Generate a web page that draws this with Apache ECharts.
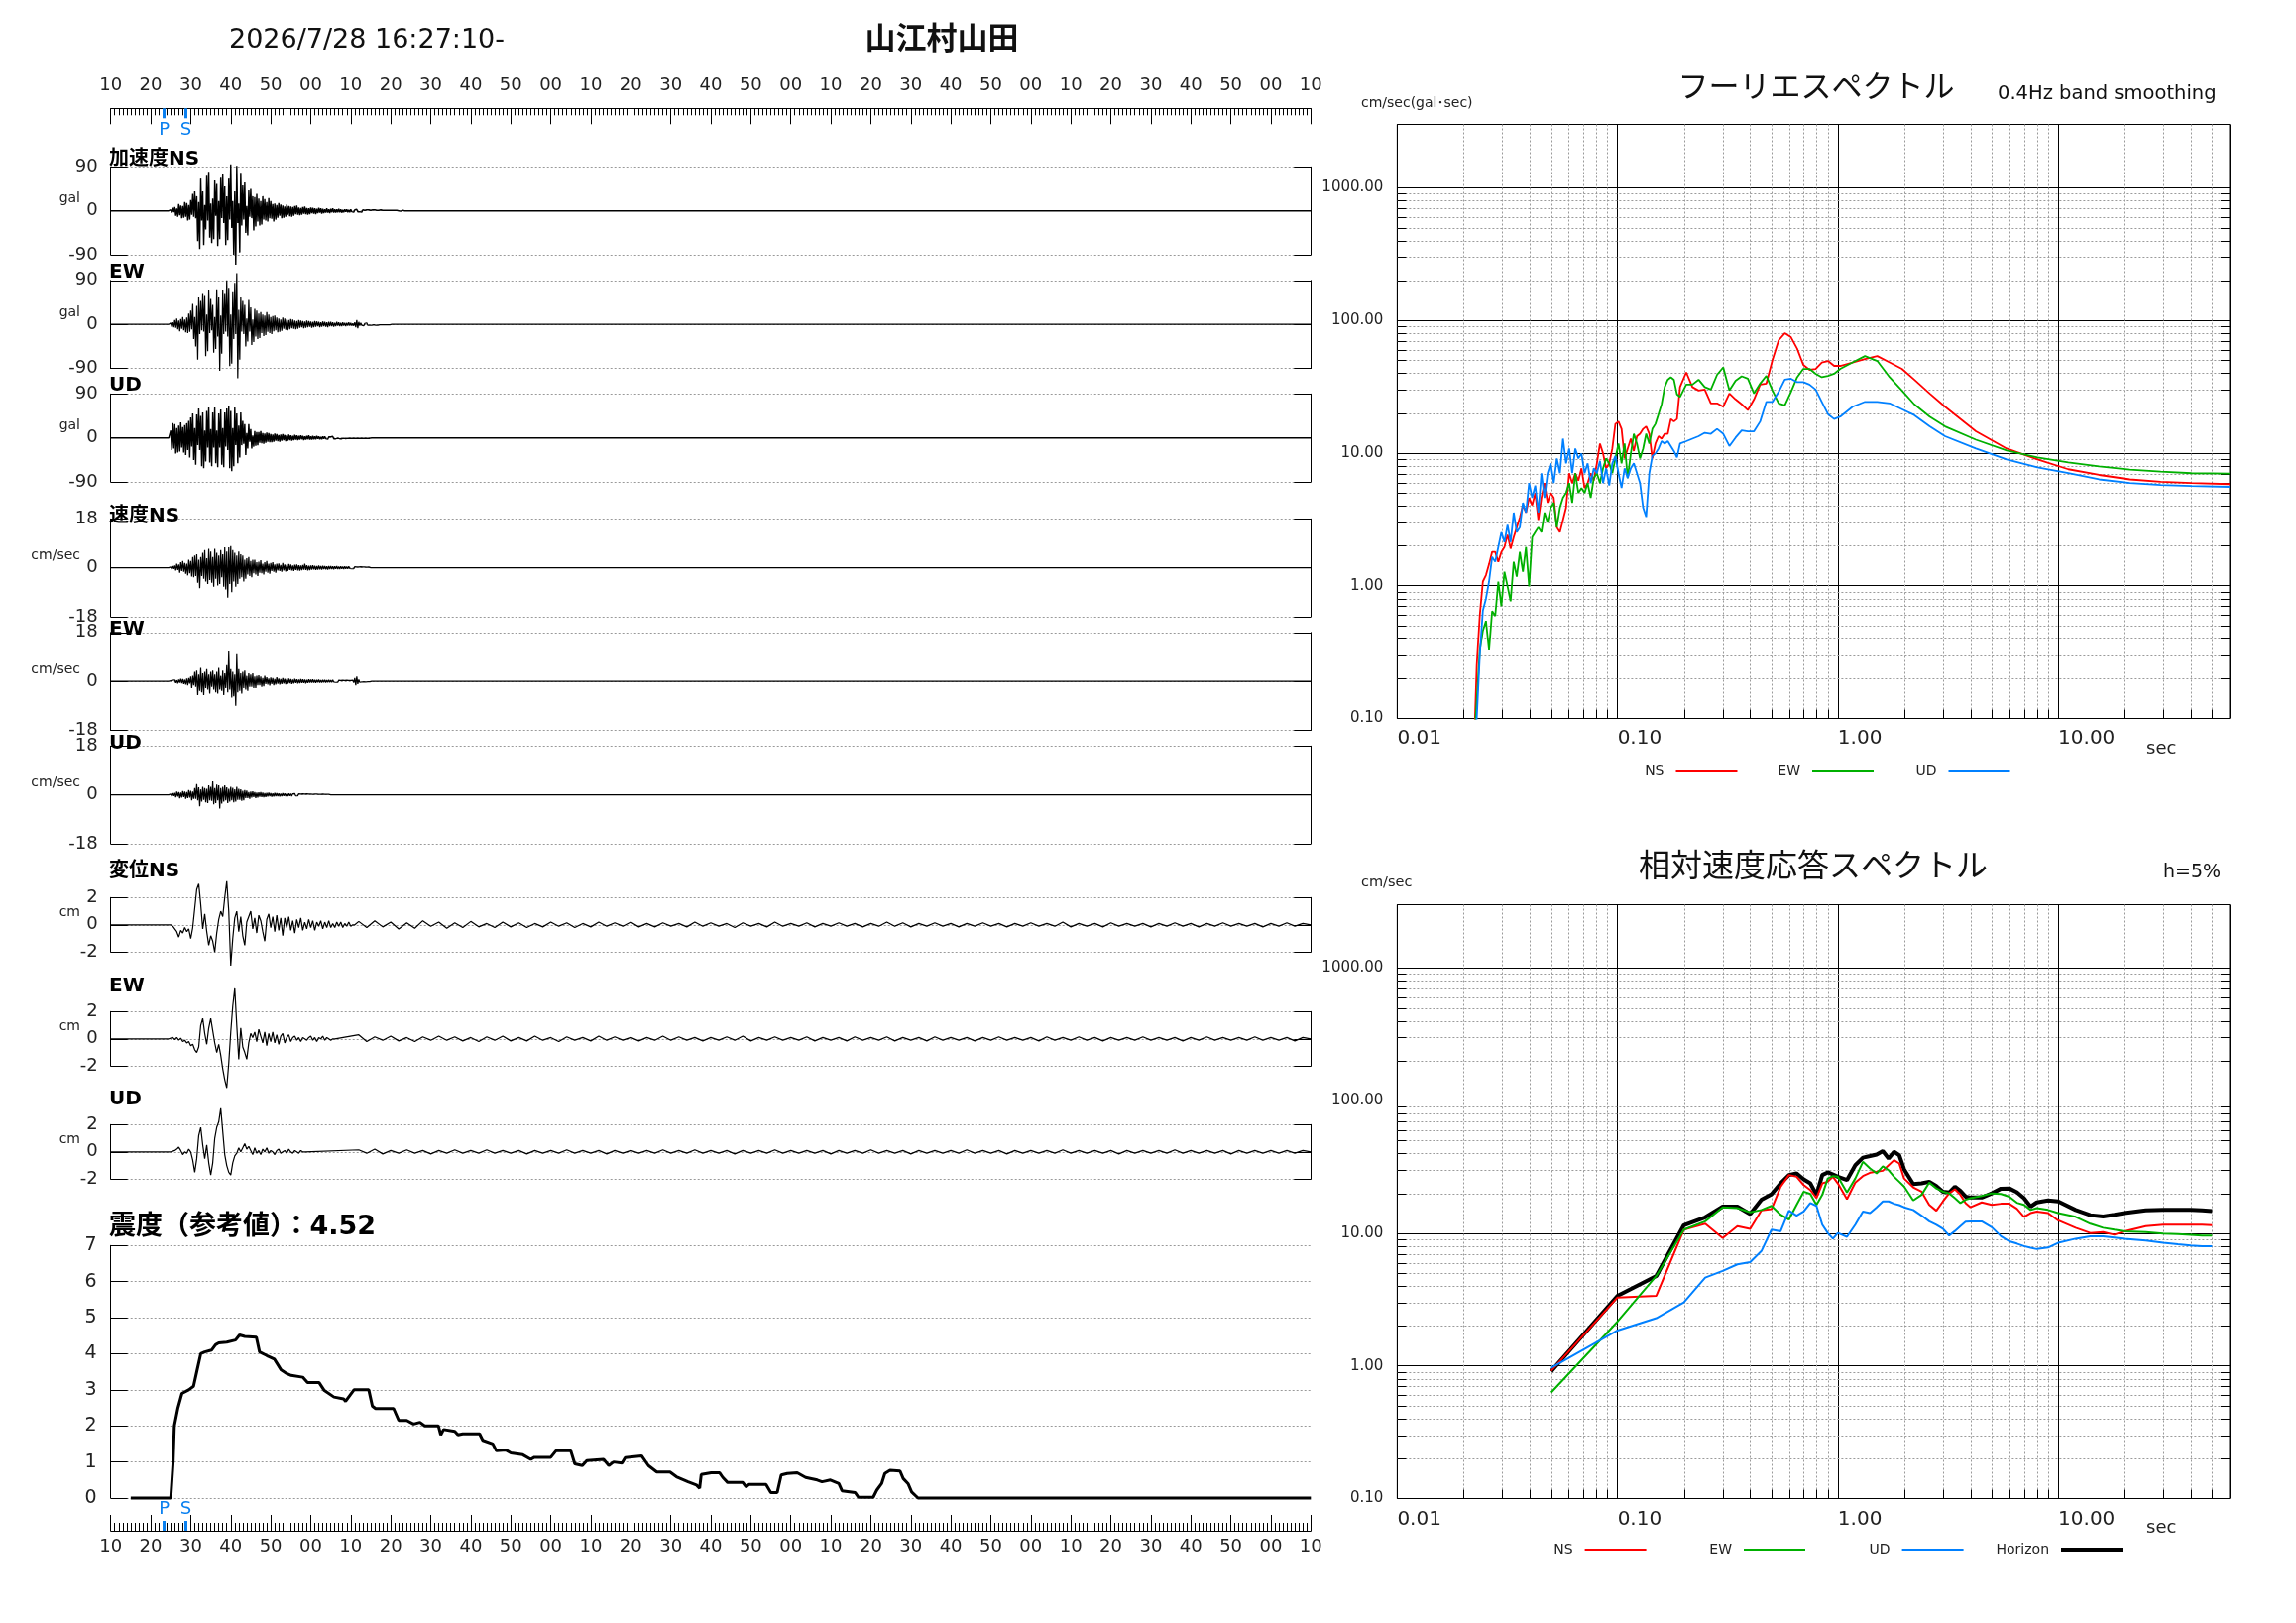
<!DOCTYPE html>
<html><head><meta charset="utf-8">
<script src="https://cdn.jsdelivr.net/npm/echarts@6/dist/echarts.min.js"></script>
<style>html,body{margin:0;padding:0;background:#fff}#c{width:2316px;height:1637px}</style>
</head><body><div id="c"></div>
<script>
// ---------------- DATA ----------------
const TIME_MAX = 300;                 // seconds shown (16:27:10 + 5 min)
const phaseTimes = [13.35, 18.75];
const phaseNames = ['P', 'S'];

// acceleration (gal), t0 = 14 s, dt = 0.25 s
const ACC_T0 = 14, ACC_DT = 0.25;
const accNS = [0,0,0,0,
2,-4,6,-3, 8,-10,5,-12, 14,-9,11,-15, 10,-14,18,-12, 16,-20,12,-18,
22,-8,35,-12, 40,-15,30,-62, 18,-78,66,-20, 40,-70,12,-38, 72,-20,80,-55,
15,-66,25,-58, 62,-10,55,-72, 20,-58,68,-15, 75,-25,50,-70, 30,-60,66,-18,
95,-35,20,-90, 40,-110,92,-25, 15,-85,78,-30, 52,-18,58,-45, 10,-50,42,-12,
45,-15,30,-40, 28,-32,35,-22, 25,-30,20,-28, 30,-18,24,-20, 18,-22,26,-15,
20,-16,14,-22, 15,-18,12,-14, 16,-10,13,-15, 11,-14,9,-12, 13,-8,10,-11,
9,-12,8,-10, 10,-7,11,-8, 7,-9,6,-8, 8,-6,9,-7, 6,-8,5,-7,
7,-5,6,-6,5,-7,4,-5,6,-4,5,-6,4,-5,3,-4,5,-4,3,-5,
4,-3,5,-4,3,-4,3,-3,4,-3,3,-4,2,-3,3,-2,3,-3,2,-3,
3,-2,2,-3,2,-2,3,-2,2,-2,2,-3,2,-2,1,-2,2,-1,2,-2,
1,-2,2,-1,2,-1,1,-2,1,-1,2,-1,1,-1,1,-1,1,-1,1,-1,
1,-1,1,-1,1,-1,1,-1,0,1,-1,0,1,-1,0,0];
const accEW = [0,0,0,0,
3,-5,4,-6, 9,-7,12,-10, 8,-14,11,-9, 15,-12,10,-16, 14,-18,22,-15,
28,-10,42,-30, 15,-45,38,-72, 55,-20,48,-12, 62,-15,58,-65, 20,-55,70,-18,
52,-12,40,-58, 15,-50,72,-25, 55,-95,18,-60, 70,-20,62,-15, 90,-25,75,-85,
20,-80,66,-30, 85,-20,105,-110, 30,-72,55,-15, 48,-20,40,-45, 12,-35,50,-15,
35,-42,10,-36, 32,-25,28,-30, 22,-28,25,-18, 20,-24,18,-22, 25,-15,20,-18,
15,-20,17,-14, 18,-12,14,-16, 12,-15,10,-13, 14,-9,12,-11, 10,-12,9,-10,
11,-8,10,-9, 8,-10,7,-9, 9,-7,8,-6, 7,-8,6,-7, 8,-6,7,-5,
6,-7,5,-6,7,-5,6,-4,5,-6,4,-5,6,-4,5,-5,4,-6,5,-4,
5,-4,4,-5,3,-4,5,-3,4,-4,3,-4,4,-3,3,-4,3,-3,4,-3,
3,-3,2,-3,4,-6,9,-8,5,-3,3,-2,2,-3,2,-2,3,-2,2,-2,
2,-2,2,-1,2,-2,1,-2,2,-1,1,-1,2,-1,1,-1,1,-1,1,-1,0];
const accUD = [0,0,0,0,
15,-25,30,-22, 28,-32,20,-30, 25,-28,32,-20, 22,-30,26,-35, 30,-25,35,-40,
42,-18,50,-45, 20,-55,48,-15, 60,-25,45,-58, 52,-62,15,-48, 55,-20,62,-50,
18,-58,52,-20, 62,-52,15,-60, 50,-20,58,-55, 20,-60,52,-18, 60,-25,65,-62,
55,-68,20,-58, 62,-15,50,-52, 25,-40,52,-15, 35,-12,28,-35, 10,-22,28,-8,
18,-22,5,-18, 14,-16,12,-15, 12,-10,14,-11, 10,-12,9,-10, 11,-8,10,-9,
8,-9,7,-8,9,-6,8,-7,6,-8,7,-6,8,-5,6,-7,5,-6,7,-5,
5,-6,4,-5,6,-4,5,-5,4,-4,5,-3,4,-5,3,-4,4,-3,5,-4,
3,-4,4,-3,3,-3,4,-2,3,-3,2,-3,3,-2,3,-2,2,-3,2,-2,
2,-2,3,-2,2,-2,2,-1,2,-2,1,-2,2,-1,1,-2,1,-1,2,-1,
1,-1,1,-1,1,-1,1,-1,1,-1,1,-1,1,-1,1,-1,1,-1,1,-1,0];

// velocity (cm/sec), t0 = 14 s, dt = 0.25 s
const VEL_T0 = 14, VEL_DT = 0.25;
const velNS = [0,0,0,0,
0.3,-0.5,0.6,-0.4, 0.8,-1.0,1.5,-0.8, 1.2,-1.8,2.0,-1.2, 2.5,-1.5,1.8,-2.2, 1.5,-2.8,3.0,-2.0,
2.5,-3.2,4.0,-3.5, 4.5,-3.0,5.0,-5.5, 3.0,-7.5,4.0,-3.0, 5.5,-4.0,6.5,-5.0, 3.5,-6.0,7.0,-4.5,
6.0,-5.5,4.0,-7.0, 7.0,-4.0,5.5,-6.5, 4.5,-6.0,6.5,-3.5, 5.0,-7.0,7.5,-8.0, 6.0,-11.0,7.5,-6.0,
8.0,-9.0,6.5,-5.0, 5.5,-7.0,4.5,-6.0, 6.0,-4.0,5.0,-3.5, 4.5,-5.0,3.0,-4.0, 3.5,-2.5,4.0,-3.0,
2.5,-3.5,3.0,-2.0, 3.0,-2.5,2.0,-3.0, 2.2,-1.8,2.8,-2.0, 1.5,-2.5,2.0,-1.5, 2.5,-1.8,1.5,-2.2,
1.8,-1.2,2.0,-1.5,1.2,-1.8,1.5,-1.0, 1.6,-1.2,1.0,-1.5,1.8,-1.0,1.2,-1.4, 1.0,-1.2,1.4,-0.8,1.2,-1.0,0.8,-1.2,
1.1,-0.8,1.2,-1.0,0.9,-1.1,0.8,-0.9, 1.0,-0.7,1.5,-0.8,0.9,-1.0,0.7,-0.9,
0.8,-0.7,0.9,-0.6,0.7,-0.8,0.6,-0.7,0.8,-0.6,0.6,-0.7,0.7,-0.5,0.6,-0.6,0.5,-0.7,0.6,-0.5,
0.6,-0.5,0.5,-0.6,0.5,-0.4,0.6,-0.5,0.4,-0.5,0.5,-0.4,0.4,-0.5,0.5,-0.4,0.4,-0.4,0.5,-0.3,
0.4,-0.4,0.3,-0.4,0.4,-0.3,0.3,-0.4,0.3,-0.3,0.4,-0.3,0.3,-0.3,0.3,-0.3,0.2,-0.3,0.3,-0.2,0];
const velEW = [0,0,0,0,
0.2,-0.3,0.4,-0.3, 0.5,-0.6,0.4,-0.8, 0.6,-0.5,0.9,-0.7, 0.8,-1.0,0.6,-1.2, 1.0,-1.5,1.2,-0.8,
1.8,-2.5,2.0,-1.5, 3.5,-2.0,4.0,-5.0, 2.5,-3.5,5.0,-4.0, 3.0,-5.0,3.5,-2.5, 4.5,-3.0,2.5,-4.5,
3.5,-2.0,4.0,-3.0, 2.5,-4.0,3.5,-4.5, 5.0,-3.0,2.0,-3.5, 4.0,-5.0,3.0,-2.5, 6.0,-4.0,11.0,-3.0,
4.5,-6.0,3.5,-5.5, 2.5,-9.0,10.0,-4.0, 4.5,-3.5,3.0,-4.5, 3.5,-2.5,4.0,-3.0, 2.0,-3.5,3.0,-2.0,
2.5,-2.0,3.0,-2.5, 1.8,-2.5,2.0,-1.5, 2.2,-1.5,1.8,-2.0, 1.2,-1.8,2.0,-1.0, 1.5,-1.2,1.0,-1.6,
1.4,-1.0,1.2,-1.5,0.8,-1.2,1.5,-0.9, 1.0,-1.2,0.8,-1.0,1.2,-0.8,0.9,-1.1, 0.8,-0.9,1.0,-0.7,0.8,-1.0,0.6,-0.8,
0.9,-0.6,0.7,-0.8,0.6,-0.7,0.8,-0.6, 0.7,-0.6,0.6,-0.8,0.5,-0.6,0.7,-0.5,
0.6,-0.5,0.7,-0.5,0.5,-0.6,0.5,-0.4,0.6,-0.5,0.4,-0.5,0.5,-0.4,0.5,-0.5,0.4,-0.4,0.5,-0.4,
0.4,-0.4,0.5,-0.3,0.4,-0.4,0.3,-0.4,0.4,-0.3,0.3,-0.4,0.4,-0.3,0.3,-0.3,0.4,-0.3,0.3,-0.3,
0.3,-0.3,0.4,-0.5,1.2,-1.5,1.8,-1.0,0.6,-0.4,0.3,-0.3,0.3,-0.2,0.3,-0.3,0.2,-0.2,0.3,-0.2,0];
const velUD = [0,0,0,0,
0.3,-0.5,0.6,-0.4, 0.7,-0.9,1.2,-0.6, 1.0,-1.3,0.8,-1.0, 1.4,-0.8,1.2,-1.5, 1.0,-1.2,1.8,-1.0,
1.5,-2.0,1.2,-1.5, 2.5,-1.5,4.0,-2.0, 2.8,-4.2,2.0,-2.5, 3.0,-1.8,2.5,-2.8, 2.2,-3.0,3.5,-2.0,
3.0,-2.2,5.0,-3.5, 2.5,-3.0,3.8,-2.0, 3.5,-5.0,2.5,-3.2, 3.0,-2.5,3.5,-2.0, 2.8,-3.0,2.2,-2.5,
3.0,-2.0,2.6,-2.8, 2.0,-2.5,3.0,-1.8, 2.2,-1.8,2.0,-2.2, 1.5,-2.0,1.8,-1.2, 1.6,-1.2,1.0,-1.5,
1.2,-1.0,1.3,-0.8, 1.0,-1.2,0.8,-1.0, 0.9,-0.7,1.0,-0.8, 0.8,-0.9,0.6,-0.8, 0.7,-0.6,0.8,-0.5,
0.6,-0.7,0.5,-0.6,0.7,-0.5,0.6,-0.5,0.5,-0.6,0.4,-0.5,0.6,-0.4,0.5,-0.5,0.4,-0.5,0.5,-0.4,
0.4,-0.5,0.4,-0.3,0.5,-0.4,0.3,-0.4,0.4,-0.3,0.3,-0.4,0.4,-0.3,0.3,-0.3,0.4,-0.3,0.3,-0.2,
0.3,-0.3,0.2,-0.3,0.3,-0.2,0.3,-0.2,0.2,-0.3,0.2,-0.2,0.3,-0.2,0.2,-0.2,0.2,-0.2,0.2,-0.1,0];

// displacement (cm), t0 = 14 s, dt = 0.5 s ; long-period tail from 62 s, dt = 2 s
const DISP_T0 = 14, DISP_DT = 0.5, TAIL_T0 = 62, TAIL_DT = 2;
const dispNS = [0,0,0,-0.1,-0.3,-0.5,-0.9,-0.4,-0.6,-0.2,-0.5,-0.3,-1.0,-0.2,1.2,2.6,3.0,1.5,-0.3,0.8,
-0.5,-1.5,-0.8,-1.2,-2.0,-0.6,0.4,1.0,0.6,2.0,3.2,1.0,-3.0,-1.0,0.5,1.0,-0.5,0.6,-0.8,-1.5,
0.2,0.6,1.0,-0.3,0.5,-0.6,0.7,0.3,-0.5,-1.2,0.4,0.8,-0.2,0.6,-0.5,0.7,-0.4,0.5,-0.8,0.5,
-0.2,0.6,-0.4,0.3,-0.6,0.4,-0.2,0.5,-0.4,0.2,-0.3,0.4,-0.2,0.3,-0.4,0.2,-0.1,0.3,-0.3,0.2,
-0.2,0.3,-0.2,0.1,-0.2,0.2,-0.1,0.2,-0.2,0.1,-0.1,0.2,-0.1,0];
const dispEW = [0,0,0.05,0.1,-0.05,0.1,-0.1,0.05,-0.2,-0.1,-0.3,-0.2,-0.5,-0.4,-0.8,-1.0,-0.6,1.0,1.5,0.4,
-0.4,0.8,1.5,0.6,-0.3,-1.0,-0.4,-1.2,-2.2,-3.0,-3.6,-1.8,0.5,2.4,3.7,1.0,-1.5,0.8,-0.6,-1.0,
-1.5,-0.3,0.4,0.1,0.5,-0.2,0.7,0.2,-0.3,0.5,-0.5,0.4,-0.2,0.5,-0.3,0.3,-0.4,0.2,0.4,-0.3,
0.1,0.3,-0.2,0.1,0.2,-0.1,0.1,-0.2,0.1,0.0,-0.1,0.1,0.2,-0.1,0.1,-0.2,0.1,0.0,0.2,-0.1,
0.1,0.0,-0.1,0];
const dispUD = [0,0,0,0.05,0.1,0.2,0.35,0.1,-0.2,0.0,-0.1,0.2,0.0,-0.6,-1.5,-0.5,1.2,1.8,0.5,-0.5,
0.5,-0.8,-1.7,-0.8,1.0,1.8,2.2,3.2,1.5,-0.2,-1.0,-1.5,-1.7,-0.8,-0.3,-0.1,0.3,0.0,0.3,0.6,
0.2,0.4,0.1,-0.2,0.3,-0.1,0.1,-0.2,0.2,0.0,0.3,-0.1,0.1,0.0,-0.2,0.1,0.2,-0.1,0.0,0.1,
-0.1,0.2,0.0,-0.1,0.1,0.0,-0.1,0.1,0];
const dispNSTail = [0.25,-0.2,0.3,-0.15,0.2,-0.3,0.15,-0.25,0.3,-0.1,0.2,-0.25,0.15,-0.2,0.25,-0.15,0.1,-0.2,0.2,-0.15,
0.15,-0.2,0.1,-0.15,0.2,-0.1,0.15,-0.2,0.1,-0.15,0.2,-0.1,0.15,-0.1,0.2,-0.15,0.1,-0.15,0.15,-0.1,
0.1,-0.15,0.2,-0.1,0.15,-0.1,0.1,-0.2,0.15,-0.1,0.1,-0.15,0.2,-0.1,0.1,-0.1,0.15,-0.15,0.1,-0.1,
0.15,-0.1,0.1,-0.15,0.1,-0.1,0.2,-0.1,0.15,-0.15,0.1,-0.1,0.15,-0.1,0.1,-0.15,0.1,-0.1,0.15,-0.1,
0.1,-0.15,0.1,-0.1,0.15,-0.1,0.1,-0.1,0.2,-0.15,0.1,-0.1,0.1,-0.15,0.15,-0.1,0.1,-0.1,0.1,-0.15,
0.1,-0.1,0.15,-0.1,0.1,-0.15,0.1,-0.1,0.15,-0.1,0.1,-0.1,0.1,-0.15,0.1,-0.1,0.15,-0.1,0.1,0];
const dispEWTail = [0.3,-0.2,0.15,-0.1,0.2,-0.15,0.1,-0.2,0.15,-0.1,0.2,-0.1,0.15,-0.15,0.1,-0.2,0.15,-0.1,0.2,-0.15,
0.1,-0.15,0.2,-0.1,0.1,-0.2,0.15,-0.1,0.1,-0.15,0.2,-0.1,0.15,-0.1,0.1,-0.15,0.1,-0.1,0.2,-0.1,
0.15,-0.1,0.1,-0.15,0.1,-0.1,0.15,-0.1,0.2,-0.15,0.1,-0.1,0.15,-0.1,0.1,-0.1,0.15,-0.15,0.1,-0.1,
0.1,-0.15,0.15,-0.1,0.1,-0.1,0.15,-0.15,0.1,-0.1,0.1,-0.15,0.15,-0.1,0.1,-0.1,0.1,-0.15,0.1,-0.1,
0.15,-0.1,0.1,-0.1,0.1,-0.15,0.15,-0.1,0.1,-0.1,0.15,-0.1,0.1,-0.15,0.1,-0.1,0.1,-0.1,0.15,-0.1,
0.1,-0.1,0.1,-0.15,0.1,-0.1,0.15,-0.1,0.1,-0.1,0.1,-0.1,0.15,-0.1,0.1,-0.1,0.1,-0.15,0.1,0];
const dispUDTail = [0.15,-0.1,0.2,-0.15,0.1,-0.1,0.15,-0.1,0.1,-0.15,0.1,-0.1,0.15,-0.1,0.1,-0.1,0.15,-0.1,0.1,-0.1,
0.1,-0.15,0.1,-0.1,0.1,-0.1,0.15,-0.1,0.1,-0.1,0.1,-0.15,0.1,-0.1,0.1,-0.1,0.1,-0.1,0.15,-0.1,
0.1,-0.1,0.15,-0.1,0.1,-0.1,0.1,-0.15,0.1,-0.1,0.1,-0.1,0.15,-0.1,0.1,-0.1,0.1,-0.1,0.1,-0.15,
0.1,-0.1,0.1,-0.1,0.15,-0.1,0.1,-0.1,0.1,-0.15,0.1,-0.1,0.1,-0.1,0.1,-0.1,0.15,-0.1,0.1,-0.1,
0.1,-0.15,0.1,-0.1,0.1,-0.1,0.1,-0.1,0.15,-0.1,0.1,-0.1,0.1,-0.1,0.1,-0.15,0.1,-0.1,0.1,-0.1,
0.1,-0.1,0.15,-0.1,0.1,-0.1,0.1,-0.1,0.1,-0.15,0.1,-0.1,0.1,-0.1,0.1,-0.1,0.1,-0.1,0.1,0];

// seismic intensity (reference value) over time
const intensityTime = [5,15,15.6,15.9,16.8,17.8,19.5,20.7,21.5,22.5,23.5,25.2,26.2,27,29,31.2,32.2,33.5,36.4,37.2,
39,40.9,42.6,44,45.1,48,49.2,52.1,53.4,55.8,58.2,58.7,59.8,60.8,64.5,65.4,66.2,70.7,72,74,
75.7,77.3,78.5,81.9,82.5,83.2,86,86.8,88,92.2,93,95.5,96.4,98.8,100,103,105,105.9,110,111.3,
115,116,117.9,119,123.2,124.5,125.7,127.8,128.6,132.7,134.4,136.5,139.8,141.4,144.3,146.4,147.2,147.6,150.1,152.2,
153,154.2,158,158.8,159.6,163.8,165,166.6,167.6,169.1,171.6,173.7,176.6,177.8,179.9,182,182.8,186.1,186.9,190.6,
191.5,192.7,193.5,194.8,197.3,198.1,199.3,200.2,201.8,300];
const intensityValue = [0,0,1.0,2.0,2.5,2.9,3.0,3.1,3.5,4.0,4.05,4.1,4.25,4.3,4.32,4.38,4.52,4.48,4.46,4.05,
3.95,3.85,3.55,3.45,3.4,3.35,3.2,3.2,2.98,2.8,2.75,2.68,2.85,3.0,3.0,2.55,2.48,2.48,2.15,2.15,
2.05,2.1,2.0,2.0,1.75,1.9,1.85,1.75,1.78,1.78,1.6,1.5,1.31,1.33,1.25,1.2,1.07,1.13,1.13,1.31,
1.31,0.95,0.9,1.04,1.07,0.9,1.0,0.97,1.12,1.17,0.9,0.72,0.72,0.59,0.45,0.36,0.27,0.65,0.7,0.7,
0.57,0.43,0.43,0.31,0.38,0.38,0.15,0.15,0.64,0.68,0.7,0.57,0.5,0.45,0.5,0.4,0.2,0.15,0.02,0.02,
0.22,0.4,0.68,0.77,0.75,0.54,0.4,0.17,0,0];

// Fourier spectrum (cm/sec) vs period (sec)
const fourierPeriod = [0.0225,0.02296,0.02371,0.02448,0.02528,0.02611,0.02697,0.02785,0.02876,0.0297,
0.03067,0.03168,0.03271,0.03379,0.03489,0.03603,0.03721,0.03843,0.03969,0.04099,
0.04233,0.04371,0.04514,0.04662,0.04815,0.04972,0.05135,0.05303,0.05477,0.05656,
0.05841,0.06032,0.06229,0.06433,0.06644,0.06861,0.07086,0.07318,0.07557,0.07805,
0.0806,0.08324,0.08597,0.08878,0.09169,0.09469,0.09779,0.101,0.1043,0.1077,
0.1112,0.1149,0.1186,0.1225,0.1265,0.1307,0.1349,0.1394,0.1439,0.1486,
0.1535,0.1585,0.1637,0.1691,0.1746,0.1803,0.1862,
0.1922,0.2051,0.2187,0.2333,0.2488,0.2653,0.283,0.3018,0.3219,0.3433,0.3661,0.3904,0.4164,0.4441,
0.4736,0.5051,0.5387,0.5745,0.6128,0.6536,0.6972,0.7435,0.793,0.8458,0.9022,0.9622,1.026,
1.167,1.328,1.51,1.718,1.954,2.223,2.611,3.067,4.233,5.841,8.06,11.12,15.35,21.18,29.23,40.33,60];
const fourierNS = [0.09,0.25,0.6,1.075,1.2,1.45,1.8,1.796,1.514,1.796,
1.956,2.42,1.9,2.32,2.753,3.266,4.043,3.557,4.597,4.043,
5.006,3.13,4.597,5.939,4.22,5.006,4.597,2.753,2.527,3.13,
3.874,7.046,5.939,7.046,6.199,7.674,5.453,5.939,7.046,6.199,
8.36,11.77,9.92,7.674,8.36,10.8,16.56,17.28,15.2,9.105,
10.8,12.82,10.35,13.38,13.96,15.2,15.87,13.96,9.105,11.77,
13.38,12.82,13.96,13.96,18.03,17.28,18.03,
31.43,40.6,31.43,29.61,30.11,23.7,23.7,22.33,28.12,25.38,23.3,21.03,25.38,32.8,
33.4,50.27,70.75,80.0,74.7,61.2,46.16,42.38,43.1,48.18,49.42,45.4,45.4,
48.18,51.13,53.8,48.18,43.1,35.73,28.12,22.33,14.57,10.8,8.95,7.55,6.84,6.33,6.07,5.94,5.83];
const fourierEW = [0.08,0.08,0.325,0.457,0.543,0.325,0.644,0.591,1.075,0.702,
1.275,0.988,0.764,1.514,1.171,1.796,1.275,1.956,0.988,2.32,
2.527,2.753,2.527,3.557,2.999,3.874,4.22,2.753,3.874,4.597,
5.006,5.939,4.22,7.046,5.006,5.453,5.006,5.939,4.597,6.469,
7.046,5.939,7.674,9.105,8.36,7.046,9.105,11.77,8.36,11.77,
6.469,9.92,13.96,11.77,9.105,10.8,13.96,11.77,15.2,16.56,
19.64,23.3,31.43,35.73,37.28,35.73,27.65,
26.49,32.8,32.8,35.73,31.43,30.11,38.9,44.23,29.61,35.1,37.92,36.34,28.12,33.4,
38.2,29.61,23.7,22.9,28.86,37.28,43.1,43.1,39.6,37.28,38.2,39.6,43.1,
48.18,53.8,49.42,37.28,29.61,23.3,18.82,15.87,12.6,10.45,9.27,8.5,7.93,7.5,7.24,7.05,7.0];
const fourierUD = [0.08,0.1,0.3,0.65,0.8,1.075,1.648,1.514,1.956,2.527,
2.13,2.873,2.13,3.557,2.527,2.753,4.22,3.557,5.939,4.597,
5.691,3.557,7.046,4.597,7.046,8.36,5.939,9.105,7.046,12.82,
8.36,10.8,7.046,10.8,9.105,9.92,7.046,8.36,5.939,7.674,
7.046,8.73,5.939,7.674,5.691,8.36,9.5,7.046,5.453,7.674,
6.469,7.674,8.36,7.046,5.939,3.874,3.3,7.046,9.5,9.92,
10.8,12.28,11.77,12.28,11.28,10.35,9.27,
11.77,12.28,12.82,13.38,14.2,13.96,15.2,13.96,11.28,13.05,14.8,14.57,14.57,17.28,
24.32,24.32,28.86,35.73,36.34,34.23,34.23,32.8,30.11,24.32,19.64,18.03,18.82,
22.33,24.32,24.32,23.7,21.39,19.31,15.87,13.38,10.8,8.95,7.81,7.05,6.33,5.94,5.75,5.64,5.56];

// relative velocity response spectrum (h=5%), cm/sec vs period (sec)
const respPeriod = [0.05,0.1,0.15,0.2,0.25,0.3,0.35,0.4,0.45,0.5,0.55,0.6,0.65,0.7,0.75,0.8,0.85,0.9,0.95,1.0,
1.1,1.2,1.3,1.4,1.5,1.6,1.7,1.8,1.9,2.0,2.2,2.4,2.6,2.8,3.0,3.2,3.4,3.6,3.8,4.0,
4.5,5.0,5.5,6.0,6.5,7.0,7.5,8.0,9.0,10,12,14,16,18,20,25,30,35,40,45,50];
const respNS = [0.92,3.28,3.38,10.65,11.8,9.2,11.3,10.8,14.9,15.2,22.5,27.5,26.7,23.1,21.2,18.4,23.8,24.5,26.7,23.8,
18.1,24.1,27.0,28.6,29.1,29.6,32.6,35.6,33.6,25.9,22.2,20.6,16.4,14.8,17.4,20.0,21.5,19.5,16.9,15.7,
17.1,16.4,16.7,16.7,15.3,13.3,14.2,14.6,14.2,12.5,11.0,10.05,10.2,9.75,10.35,11.3,11.6,11.6,11.6,11.6,11.5];
const respEW = [0.63,2.16,4.77,10.65,12.3,15.7,15.5,14.4,15.0,16.1,13.8,12.7,16.4,20.6,19.8,16.4,19.5,25.9,27.0,26.7,
20.3,25.9,34.6,30.8,28.3,32.0,29.9,26.7,24.5,22.5,17.7,19.5,24.1,21.8,20.6,20.0,18.4,16.9,17.9,18.4,
19.1,20.0,19.8,18.9,17.0,16.4,15.0,15.5,15.0,14.2,13.3,11.8,11.0,10.65,10.35,10.2,9.96,9.84,9.72,9.6,9.6];
const respUD = [0.966,1.85,2.29,3.01,4.63,5.2,5.83,6.07,7.35,10.65,10.35,14.8,13.6,14.6,16.9,16.1,11.6,10.05,9.1,10.05,
9.4,11.6,14.6,14.2,15.7,17.4,17.4,16.7,16.3,15.7,15.0,13.6,12.3,11.6,10.8,9.6,10.4,11.3,12.2,12.3,
12.3,11.1,9.5,8.7,8.36,8.0,7.77,7.6,7.8,8.47,9.1,9.5,9.5,9.3,9.1,8.8,8.47,8.26,8.1,8.0,8.0];
const respH = [0.91,3.38,4.77,11.5,13.2,15.9,15.9,13.95,17.9,19.7,23.8,27.5,28.3,25.5,23.8,19.5,27.5,28.8,27.8,26.7,
25.2,32.6,37.2,38.2,39.2,41.6,36.6,41.1,38.8,30.3,23.5,23.8,24.5,22.7,20.6,20.3,22.5,20.9,18.9,18.6,
18.6,20.0,21.7,21.8,20.4,18.4,15.9,17.1,17.7,17.4,15.0,13.7,13.4,13.8,14.2,14.9,15.0,15.0,15.0,14.9,14.7];

// minor grid values of the log plots
const minorPeriods = [0.02,0.03,0.04,0.05,0.06,0.07,0.08,0.09,0.2,0.3,0.4,0.5,0.6,0.7,0.8,0.9,2,3,4,5,6,7,8,9,20,30,40,50];
const minorAmps = [0.2,0.3,0.4,0.5,0.6,0.7,0.8,0.9,2,3,4,5,6,7,8,9,20,30,40,50,60,70,80,90,200,300,400,500,600,700,800,900];

// ---------------- CHART ----------------
const FONT = "'DejaVu Sans','Noto Sans CJK JP',sans-serif";
const TXT = '#222';
const PS_BLUE = '#0a80f0';
const COL = {NS: '#ff0000', EW: '#00b000', UD: '#0080ff', Horizon: '#000000'};
const PL = 111.7, PW = 1210.6;

const grids = [], xAxes = [], yAxes = [], series = [], graphics = [], legends = [];
function addGrid(g) { grids.push(Object.assign({outerBoundsMode: 'none', containLabel: false}, g)); return grids.length - 1; }
function addX(a) { xAxes.push(a); return xAxes.length - 1; }
function addY(a) { yAxes.push(a); return yAxes.length - 1; }
function txt(text, x, y, size, o) {
  o = o || {};
  graphics.push({type: 'text', x: x, y: y, silent: true, z: 50,
    style: {text: text, fill: o.color || '#111', fontSize: size, fontFamily: FONT, fontWeight: o.weight || 'normal',
      textAlign: o.align || 'left', textVerticalAlign: 'middle', align: o.align || 'left', verticalAlign: 'middle'}});
}
function timeLabel(v) { const s = Math.round(10 + v) % 60; return (s < 10 ? '0' : '') + s; }
function trace(values, t0, dt, tail) {
  const d = [[0, 0]];
  values.forEach(function (v, i) { d.push([t0 + i * dt, v]); });
  d.push([t0 + values.length * dt, 0]);
  if (tail) tail.forEach(function (v, i) { d.push([TAIL_T0 + i * TAIL_DT, v]); });
  d.push([TIME_MAX, 0]);
  return d;
}
function pairs(xs, ys) { return xs.map(function (x, i) { return [x, ys[i]]; }); }

// --- time axes (top & bottom) with P / S markers
function timeAxisGrid(top, position, minorLen, labelMargin, labelPos) {
  const g = addGrid({left: PL, top: top, width: PW, height: 10});
  const xi = addX({gridIndex: g, type: 'value', position: position, min: 0, max: TIME_MAX, interval: 10,
    axisLine: {show: true, onZero: false, lineStyle: {color: '#000', width: 1}},
    axisTick: {show: true, inside: true, length: 16, lineStyle: {color: '#000', width: 1}},
    minorTick: {show: true, splitNumber: 10, length: minorLen, lineStyle: {color: '#000', width: 1}},
    axisLabel: {show: true, margin: labelMargin, fontSize: 18, color: TXT, fontFamily: FONT, formatter: timeLabel},
    splitLine: {show: false}});
  const yi = addY({gridIndex: g, type: 'value', min: 0, max: 1, show: false});
  series.push({type: 'scatter', xAxisIndex: xi, yAxisIndex: yi, data: [], silent: true,
    markLine: {silent: true, symbol: ['none', 'none'], animation: false,
      lineStyle: {color: PS_BLUE, width: 3, type: 'solid'},
      label: {show: true, position: labelPos, formatter: '{b}', color: PS_BLUE, fontSize: 18, fontFamily: FONT, distance: 3},
      data: phaseTimes.map(function (t, i) { return {name: phaseNames[i], xAxis: t}; })}});
}
timeAxisGrid(109.3, 'top', 7, 14, 'start');
timeAxisGrid(1534, 'bottom', 8, 7, 'end');

// --- waveform panels
const panels = [
  {id: 'accNS', label: '加速度NS', unit: 'gal', top: 168.3, h: 88.8, r: 90, v: accNS, t0: ACC_T0, dt: ACC_DT, w: 1.4, ly: 160.7},
  {id: 'accEW', label: 'EW', unit: 'gal', top: 282.8, h: 88.8, r: 90, v: accEW, t0: ACC_T0, dt: ACC_DT, w: 1.2, ly: 275},
  {id: 'accUD', label: 'UD', unit: 'gal', top: 397.3, h: 88.8, r: 90, v: accUD, t0: ACC_T0, dt: ACC_DT, w: 1.4, ly: 388.5},
  {id: 'velNS', label: '速度NS', unit: 'cm/sec', top: 523.3, h: 98.7, r: 18, v: velNS, t0: VEL_T0, dt: VEL_DT, w: 1.2, ly: 520.7},
  {id: 'velEW', label: 'EW', unit: 'cm/sec', top: 637.8, h: 98.7, r: 18, v: velEW, t0: VEL_T0, dt: VEL_DT, w: 1.2, ly: 635},
  {id: 'velUD', label: 'UD', unit: 'cm/sec', top: 752.3, h: 98.7, r: 18, v: velUD, t0: VEL_T0, dt: VEL_DT, w: 1.2, ly: 749.5},
  {id: 'dispNS', label: '変位NS', unit: 'cm', top: 905.3, h: 55, r: 2, v: dispNS, tail: dispNSTail, t0: DISP_T0, dt: DISP_DT, w: 1.2, ly: 879},
  {id: 'dispEW', label: 'EW', unit: 'cm', top: 1020.3, h: 55, r: 2, v: dispEW, tail: dispEWTail, t0: DISP_T0, dt: DISP_DT, w: 1.2, ly: 995},
  {id: 'dispUD', label: 'UD', unit: 'cm', top: 1134.3, h: 55, r: 2, v: dispUD, tail: dispUDTail, t0: DISP_T0, dt: DISP_DT, w: 1.2, ly: 1108.3}
];
panels.forEach(function (p) {
  const g = addGrid({left: PL, top: p.top, width: PW, height: p.h});
  const xi = addX({gridIndex: g, type: 'value', min: 0, max: TIME_MAX, show: false});
  const yl = addY({gridIndex: g, type: 'value', position: 'left', min: -p.r, max: p.r, interval: p.r,
    axisLine: {show: true, onZero: false, lineStyle: {color: '#000', width: 1}},
    axisTick: {show: true, inside: true, length: 17, lineStyle: {color: '#000', width: 1}},
    axisLabel: {show: true, margin: 13, fontSize: 18, color: TXT, fontFamily: FONT},
    splitLine: {show: true, lineStyle: {color: '#999', width: 1, type: [2, 2]}}});
  addY({gridIndex: g, type: 'value', position: 'right', min: -p.r, max: p.r, interval: p.r,
    axisLine: {show: true, onZero: false, lineStyle: {color: '#000', width: 1}},
    axisTick: {show: true, inside: true, length: 17, lineStyle: {color: '#000', width: 1}},
    axisLabel: {show: false}, splitLine: {show: false}});
  series.push({type: 'line', name: p.id, xAxisIndex: xi, yAxisIndex: yl, data: trace(p.v, p.t0, p.dt, p.tail),
    showSymbol: false, symbol: 'none', clip: false, silent: true,
    lineStyle: {color: '#000', width: p.w}, z: 3});
  txt(p.label, 110, p.ly, 20, {weight: 'bold', color: '#000'});
  const zeroY = p.top + p.h / 2;
  txt(p.unit, 81, zeroY - 12, 14, {align: 'right', color: TXT});
});

// --- intensity panel
(function () {
  const g = addGrid({left: PL, top: 1256.3, width: PW, height: 254.7});
  const xi = addX({gridIndex: g, type: 'value', min: 0, max: TIME_MAX, show: false});
  const yi = addY({gridIndex: g, type: 'value', min: 0, max: 7, interval: 1,
    axisLine: {show: true, onZero: false, lineStyle: {color: '#000', width: 1}},
    axisTick: {show: true, inside: true, length: 17, lineStyle: {color: '#000', width: 1}},
    axisLabel: {show: true, margin: 14, fontSize: 19, color: TXT, fontFamily: FONT},
    splitLine: {show: true, lineStyle: {color: '#999', width: 1, type: [2, 2]}}});
  series.push({type: 'line', name: 'intensity', xAxisIndex: xi, yAxisIndex: yi, data: pairs(intensityTime, intensityValue),
    showSymbol: false, symbol: 'none', clip: false, silent: true, lineStyle: {color: '#000', width: 3}, z: 3});
  txt('震度（参考値）：4.52', 110, 1238, 27, {weight: 'bold', color: '#000'});
})();

// --- log-log spectra
function decadeLabel(v) {
  const lg = Math.log10(v);
  if (Math.abs(lg - Math.round(lg)) > 1e-6) return '';
  return Math.pow(10, Math.round(lg)).toFixed(2);
}
function minorGrid(xi, yi, dim, vals) {
  return {type: 'custom', xAxisIndex: xi, yAxisIndex: yi, silent: true, z: 1, animation: false,
    data: vals.map(function (v) { return dim === 'x' ? [v, 1] : [1, v]; }),
    encode: {x: 0, y: 1},
    renderItem: function (params, api) {
      const cs = params.coordSys;
      const pt = api.coord([api.value(0), api.value(1)]);
      const dash = {stroke: '#9a9a9a', lineWidth: 1, lineDash: [2, 2]};
      const solid = {stroke: '#000', lineWidth: 1};
      if (dim === 'y') {
        const y = Math.round(pt[1]) + 0.5, x0 = cs.x, x1 = cs.x + cs.width;
        return {type: 'group', children: [
          {type: 'line', shape: {x1: x0, y1: y, x2: x1, y2: y}, style: dash},
          {type: 'line', shape: {x1: x0, y1: y, x2: x0 + 9, y2: y}, style: solid},
          {type: 'line', shape: {x1: x1 - 9, y1: y, x2: x1, y2: y}, style: solid}]};
      }
      const x = Math.round(pt[0]) + 0.5, y0 = cs.y, y1 = cs.y + cs.height;
      return {type: 'group', children: [
        {type: 'line', shape: {x1: x, y1: y0, x2: x, y2: y1}, style: dash},
        {type: 'line', shape: {x1: x, y1: y1 - 9, x2: x, y2: y1}, style: solid}]};
    }};
}
function spectrumChart(top, curves, xLabelMargin) {
  const g = addGrid({left: 1409.4, top: top, width: 839.6, height: 599, show: true, borderColor: '#000', borderWidth: 1, backgroundColor: 'transparent'});
  const xi = addX({gridIndex: g, type: 'log', logBase: 10, min: 0.01, max: 60,
    axisLine: {show: false}, axisTick: {show: false},
    axisLabel: {show: true, formatter: decadeLabel, align: 'left', margin: xLabelMargin, fontSize: 20, color: TXT, fontFamily: FONT, showMaxLabel: false},
    splitLine: {show: true, lineStyle: {color: '#000', width: 1}}});
  const yi = addY({gridIndex: g, type: 'log', logBase: 10, min: 0.1, max: 3000,
    axisLine: {show: false}, axisTick: {show: false},
    axisLabel: {show: true, formatter: decadeLabel, margin: 14, fontSize: 15, color: TXT, fontFamily: FONT, showMaxLabel: false},
    splitLine: {show: true, lineStyle: {color: '#000', width: 1}}});
  series.push(minorGrid(xi, yi, 'x', minorPeriods));
  series.push(minorGrid(xi, yi, 'y', minorAmps));
  curves.forEach(function (c) {
    series.push({type: 'line', name: c.name, xAxisIndex: xi, yAxisIndex: yi, data: pairs(c.x, c.y),
      showSymbol: false, symbol: 'none', clip: true, silent: true, color: COL[c.name],
      itemStyle: {color: COL[c.name]}, lineStyle: {color: COL[c.name], width: c.w}, z: c.z});
  });
}
spectrumChart(125.5, [
  {name: 'NS', x: fourierPeriod, y: fourierNS, w: 1.8, z: 4},
  {name: 'EW', x: fourierPeriod, y: fourierEW, w: 1.8, z: 4},
  {name: 'UD', x: fourierPeriod, y: fourierUD, w: 1.8, z: 5}], 10);
spectrumChart(912.5, [
  {name: 'NS', x: respPeriod, y: respNS, w: 2, z: 5},
  {name: 'EW', x: respPeriod, y: respEW, w: 2, z: 5},
  {name: 'UD', x: respPeriod, y: respUD, w: 2, z: 5},
  {name: 'Horizon', x: respPeriod, y: respH, w: 4, z: 4}], 11);

function legendItem(name, lineEnd, yc, h) {
  legends.push({show: true, data: [name], right: 2316 - lineEnd, top: yc - 8, orient: 'horizontal', align: 'right',
    icon: 'rect', itemWidth: 62, itemHeight: h, padding: 0, selectedMode: false,
    textStyle: {fontSize: 14, color: TXT, fontFamily: FONT, padding: [0, 7, 0, 0]}});
}
legendItem('NS', 1752.5, 779, 2); legendItem('EW', 1890, 779, 2); legendItem('UD', 2027.5, 779, 2);
legendItem('NS', 1660.6, 1564, 2); legendItem('EW', 1821, 1564, 2); legendItem('UD', 1980.6, 1564, 2); legendItem('Horizon', 2141, 1564, 4);

// --- texts
txt('2026/7/28 16:27:10-', 370, 41, 27, {align: 'center', color: '#111'});
txt('山江村山田', 950, 41, 31, {align: 'center', color: '#111', weight: 'bold'});
txt('フーリエスペクトル', 1832, 90, 31, {align: 'center', color: '#111'});
txt('0.4Hz band smoothing', 2015, 95, 19.5, {color: '#111'});
txt('cm/sec(gal･sec)', 1373, 104, 14, {color: TXT});
txt('sec', 2165, 755, 18, {color: TXT});
txt('相対速度応答スペクトル', 1829, 876, 32, {align: 'center', color: '#111'});
txt('h=5%', 2182, 880, 19, {color: '#111'});
txt('cm/sec', 1373, 890, 14.5, {color: TXT});
txt('sec', 2165, 1541.5, 18, {color: TXT});

const chart = echarts.init(document.getElementById('c'), null, {renderer: 'canvas', width: 2316, height: 1637});
chart.setOption({
  backgroundColor: '#ffffff', animation: false,
  textStyle: {fontFamily: FONT},
  grid: grids, xAxis: xAxes, yAxis: yAxes, series: series, legend: legends, graphic: graphics
});
</script></body></html>
